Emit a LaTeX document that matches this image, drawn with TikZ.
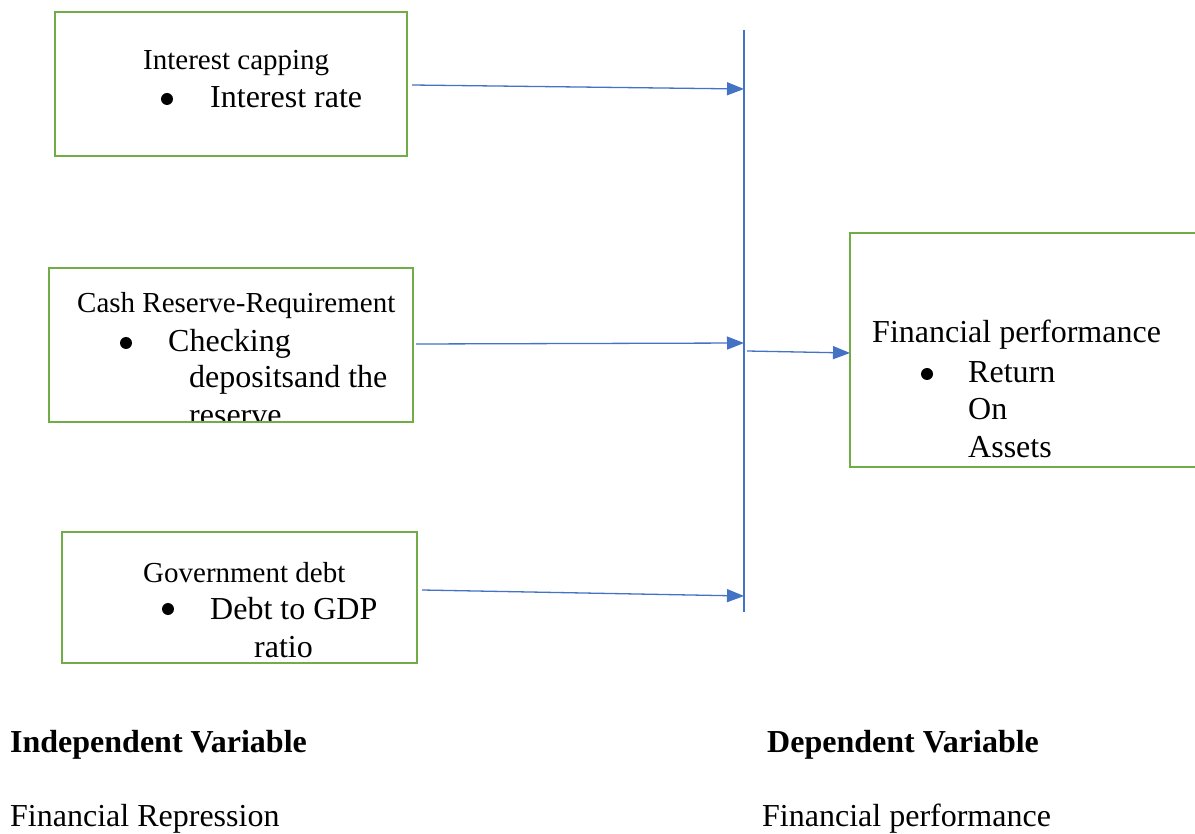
\documentclass[tikz,border=0pt]{standalone}
\usepackage{fontspec}
\setmainfont{Liberation Serif}
\usetikzlibrary{arrows.meta}
\definecolor{boxgreen}{RGB}{112,173,71}
\definecolor{lineblue}{RGB}{68,114,196}
\tikzset{
  vbox/.style={draw=boxgreen, line width=2.5pt, inner sep=0pt, outer sep=0pt},
  headtxt/.style={anchor=base west, inner sep=0pt, font=\rmfamily\fontsize{29}{34}\selectfont},
  itemtxt/.style={anchor=base west, inner sep=0pt, font=\rmfamily\fontsize{32}{37}\selectfont},
  bottomtxt/.style={anchor=base west, inner sep=0pt, font=\rmfamily\fontsize{32}{37}\selectfont},
  boldtxt/.style={anchor=base west, inner sep=0pt, font=\rmfamily\bfseries\fontsize{32}{37}\selectfont},
  bul/.style={circle, fill=black, draw=none, minimum size=12pt, inner sep=0pt},
  conn/.style={draw=lineblue, line width=1.3pt, -{Triangle[length=17pt,width=13pt]}}
}
\begin{document}
\begin{tikzpicture}[x=1pt,y=-1pt]
\useasboundingbox (0,0) rectangle (1195,834);
\clip (0,0) rectangle (1195,834);

% boxes
\node[vbox, minimum width=352pt, minimum height=144pt] (b1) at (231,84) {};
\node[vbox, minimum width=364pt, minimum height=154pt] (b2) at (231,345) {};
\node[vbox, minimum width=355pt, minimum height=131pt] (b3) at (239.5,597.5) {};
\node[vbox, minimum width=355pt, minimum height=234pt] (b4) at (1027.5,350) {};

% box 1 text
\node[headtxt] (t1) at (143,70) {Interest capping};
\node[bul] (u1) at (167,99) {};
\node[itemtxt] (i1) at (210,108) {Interest rate};

% box 2 text
\node[headtxt] (t2) at (77,313) {Cash Reserve-Requirement};
\node[bul] (u2) at (126,343) {};
\node[itemtxt] (i2a) at (168,352) {Checking};
\node[itemtxt] (i2b) at (189,388) {depositsand the};
\begin{scope}
  \clip (49,268) rectangle (413,421);
  \node[itemtxt] (i2c) at (189,425) {reserve};
\end{scope}

% box 3 text
\node[headtxt] (t3) at (143,582) {Government debt};
\node[bul] (u3) at (168,609) {};
\node[itemtxt] (i3a) at (210,619) {Debt to GDP};
\node[itemtxt] (i3b) at (254,657) {ratio};

% box 4 text
\node[itemtxt] (t4) at (872,343) {Financial performance};
\node[bul] (u4) at (927,374) {};
\node[itemtxt] (i4a) at (968,383) {Return};
\node[itemtxt] (i4b) at (968,420) {On};
\node[itemtxt] (i4c) at (968,457) {Assets};

% vertical collector line
\coordinate (vt) at (744,30);
\coordinate (vb) at (744,612);
\draw[draw=lineblue, line width=1.3pt] (vt) -- (vb);
\coordinate (p1) at (744,89);
\coordinate (p2) at (744,343);
\coordinate (p3) at (744,596);
\coordinate (m) at (747,351);

% connectors
\draw[conn] ([xshift=5pt,yshift=-1pt]b1.east) -- (p1);
\draw[conn] ([xshift=3pt,yshift=1pt]b2.east) -- (p2);
\draw[conn] ([xshift=5pt,yshift=7.5pt]b3.east) -- (p3);
\draw[conn] (m) -- ([yshift=-3pt]b4.west);

% bottom labels
\node[boldtxt] (iv) at (10,752) {Independent Variable};
\node[boldtxt] (dv) at (767,752) {Dependent Variable};
\node[bottomtxt] (fr) at (10,826) {Financial Repression};
\node[bottomtxt] (fp) at (762,826) {Financial performance};
\end{tikzpicture}
\end{document}
